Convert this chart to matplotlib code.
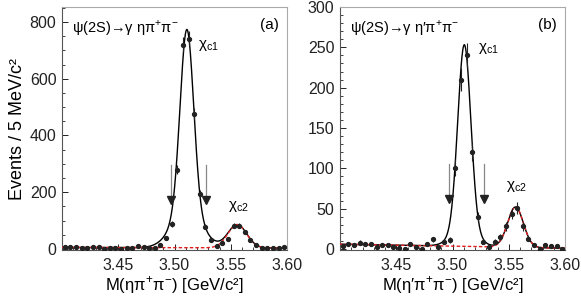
import numpy as np
import matplotlib
matplotlib.use('Agg')
from matplotlib import pyplot as plt
from matplotlib.ticker import MultipleLocator

plt.rcParams['font.family'] = ['Liberation Sans', 'DejaVu Sans']
plt.rcParams['mathtext.fontset'] = 'custom'
plt.rcParams['mathtext.rm'] = 'Liberation Sans'

# bin centres, 5 MeV bins from 3.40 to 3.60
mass = np.arange(40) * 0.005 + 3.4025

# (a) psi(2S) -> gamma eta pi+ pi-
counts_a = [5, 5, 7, 3, 2, 7, 5, 0, 3, 3, 0, 3, 3, 10, 5, 3, 3, 14, 39, 88,
            279, 720, 741, 476, 194, 78, 32, 11, 21, 35, 81, 81, 60, 32, 14, 4, 4, 4, 4, 7]
# (b) psi(2S) -> gamma eta' pi+ pi-
counts_b = [4, 6, 5, 8, 6, 6, 2, 5, 5, 2, 1, 0, 6, 3, 0, 6, 12, 3, 9, 11,
            101, 210, 240, 120, 40, 9, 3, 9, 15, 28, 44, 51, 28, 13, 5, 0, 5, 4, 4, 0]

# fit shapes: (mean, core amp, core sigma, tail amp, tail sigma)
chic1_a = (3.5110, 640, 0.0060, 130, 0.013)
chic2_a = (3.5558, 82, 0.0084)
bkg_a = (5.0, 3.0)
chic1_b = (3.5105, 230, 0.0058, 20, 0.011)
chic2_b = (3.5560, 50, 0.0070)
bkg_b = (6.0, 1.0)

arrows_a = [3.4965, 3.528]
arrows_b = [3.4969, 3.5283]

PP = 'π$^{\\mathregular{+}}$π$^{\\mathregular{-}}$'


def gauss(x, a, m, s):
    return a * np.exp(-0.5 * ((x - m) / s) ** 2)


def curves(x, c1, c2, bkg):
    b = bkg[0] + (bkg[1] - bkg[0]) * (x - 3.40) / 0.2
    sig1 = gauss(x, c1[1], c1[0], c1[2]) + gauss(x, c1[3], c1[0], c1[4])
    sig2 = gauss(x, c2[1], c2[0], c2[2])
    return b + sig1 + sig2, b + sig2


fig = plt.figure(figsize=(5.81, 2.99), dpi=100)
ax_a = fig.add_axes([62 / 581, 1 - 250 / 299, 225 / 581, 243 / 299])
ax_b = fig.add_axes([340 / 581, 1 - 250 / 299, 225 / 581, 243 / 299])

xs = np.linspace(3.40, 3.60, 800)

panels = [
    (ax_a, counts_a, chic1_a, chic2_a, bkg_a, arrows_a, (-4, 853), 200, 50,
     (296, 162), 10, 'ψ(2S)→γ η' + PP, '(a)', 'M(η' + PP + ') [GeV/c²]',
     (3.5205, 718), (3.5475, 150)),
    (ax_b, counts_b, chic1_b, chic2_b, bkg_b, arrows_b, (-1.2, 300), 50, 10,
     (105, 58), 3.7, 'ψ(2S)→γ η′' + PP, '(b)', 'M(η′' + PP + ') [GeV/c²]',
     (3.5225, 248), (3.5475, 78)),
]

for (ax, cnt, c1, c2, bkg, arr, ylim, major, minor, arr_y, head, title, tag,
     xlabel, pos1, pos2) in panels:
    cnt = np.array(cnt, dtype=float)
    total, red = curves(xs, c1, c2, bkg)
    ax.plot(xs, total, c='black', lw=1.0, zorder=2)
    ax.plot(xs, red, c='#e02020', lw=1.0, ls=(0, (2.5, 1.5)), zorder=3)
    ax.errorbar(mass, cnt, yerr=np.sqrt(cnt), fmt='o', ms=2.8, c='#222222',
                elinewidth=0.8, capsize=0, zorder=4)
    for xa in arr:
        ax.plot([xa, xa], [arr_y[0], arr_y[1] + head], c='#888888', lw=0.9)
        ax.plot(xa, arr_y[1] + head, marker='v', ms=6, c='#222222')
    ax.set_xlim(3.40, 3.60)
    ax.set_ylim(*ylim)
    ax.xaxis.set_major_locator(MultipleLocator(0.05))
    ax.xaxis.set_minor_locator(MultipleLocator(0.01))
    ax.yaxis.set_major_locator(MultipleLocator(major))
    ax.yaxis.set_minor_locator(MultipleLocator(minor))
    ax.set_xticks([3.45, 3.50, 3.55, 3.60])
    ax.set_xticklabels(['3.45', '3.50', '3.55', '3.60'])
    ax.tick_params(which='both', direction='in', labelsize=11.5, colors='#222222')
    ax.tick_params(which='major', length=4, width=0.7, pad=4)
    ax.tick_params(which='minor', length=2.5, width=0.6)
    ax.tick_params(axis='x', pad=6)
    for s in ['top', 'right']:
        ax.spines[s].set_color('#aaaaaa')
    for s in ['left', 'bottom']:
        ax.spines[s].set_color('#555555')
    ax.text(0.045, 0.955, title, transform=ax.transAxes, fontsize=10.5,
            va='top', ha='left')
    ax.text(0.965, 0.955, tag, transform=ax.transAxes, fontsize=11,
            va='top', ha='right')
    ax.text(pos1[0], pos1[1], 'χ$_{\\mathregular{c1}}$', fontsize=11, va='center')
    ax.text(pos2[0], pos2[1], 'χ$_{\\mathregular{c2}}$', fontsize=11, va='center')
    ax.set_xlabel(xlabel, fontsize=12, va='center')
    ax.xaxis.set_label_coords(0.5, -0.145)

ax_a.set_ylabel('Events / 5 MeV/c²', fontsize=13, labelpad=3)

fig.savefig('out.png', dpi=100)
